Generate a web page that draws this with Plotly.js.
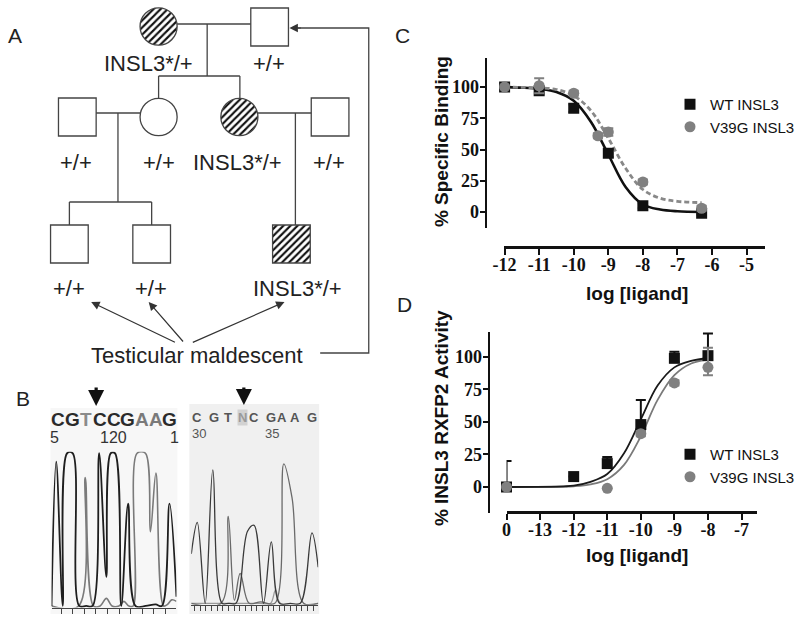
<!DOCTYPE html>
<html><head><meta charset="utf-8">
<script src="https://cdn.plot.ly/plotly-3.0.1.min.js"></script>
<style>html,body{margin:0;padding:0;background:#fff}#chart{width:800px;height:618px}</style>
</head><body><div id="chart"></div>
<script>
// ================= DATA =================
// Panel A: pedigree
const pedigreeId       = ['I-1','I-2','II-1','II-2','II-3','II-4','III-1','III-2','III-3'];
const pedigreeSex      = ['F','M','M','F','F','M','M','M','M'];
const pedigreeGenotype = ['INSL3*/+','+/+','+/+','+/+','INSL3*/+','+/+','+/+','+/+','INSL3*/+'];
const pedigreeCarrier  = [true,false,false,false,true,false,false,false,true];
const maldescentText   = 'Testicular maldescent';

// Panel B: sequencing chromatograms (scan position, signal)
const seqWT        = ['C','G','T','C','C','G','A','A','G'];
const seqWTNumbers = ['5','120','1'];
const seqPt        = ['C','G','T','N','C','G','A','A','G'];
const seqPtNumbers = ['30','35'];
const chromWT_darkX = [0,4.7,11.3,15.7,21.3,28,35,41.3,48,55.3,59.7,64,70.3,77.3,84.7,95,105,111.3,119,126];
const chromWT_darkY = [0,94.5,0,100,100,0,0,0,100,19,100,100,0,67,0,0,1,0,67,6];
const chromWT_grayX = [0,27.3,34,42.3,49,55.3,61,68,73,78,82.3,86.3,94.7,99.7,105.3,113,117,121.3,126];
const chromWT_grayY = [0,0,84,0,0,5,0,0,3,0,0,100,100,48.6,87,0,1,4,3];
const chromPt_darkX = [0,6,14,21.7,31,38,45,56.7,63.3,72.8,80.7,89,100,110,121.7,128];
const chromPt_darkY = [33,54,0,89,0,0,0,48,52,0,41,0,0,0,47,24];
const chromPt_grayX = [0,30,37.3,43.5,49.3,58.3,70,84.3,93.3,101.7,113.3,128];
const chromPt_grayY = [0,0,58,2,20,0,1,0,93,70,0,0];
const chromPt_lightX = [0,70,80,85,90,128];
const chromPt_lightY = [0,0,0,9,0,0];

// Panel C: % specific binding vs log [ligand]
const bindX_WT    = [-12,-11,-10,-9,-8,-6.3];
const bindWT      = [100,97,83,47,5,-1];
const bindWT_err  = [2,3,3,3,2,1];
const bindX_V39G  = [-12,-11,-10,-9.3,-9,-8,-6.3];
const bindV39G    = [100,101,95,61,64,24,3];
const bindV39G_err= [1,6,2,2,3,2,2];
const bindFitX    = [-12,-11.5,-11,-10.5,-10,-9.5,-9,-8.5,-8,-7.5,-7,-6.3];
const bindFitWT   = [100,99.5,98.5,96,89,72,46,20,6,2,0.6,0];
const bindFitV39G = [100,99.7,99.3,98,93,81,59,35,18,11,8.5,7.5];
const bindTicks   = [-12,-11,-10,-9,-8,-7,-6,-5];
const bindTickText= ['-12','-11','-10','-9','-8','-7','-6','-5'];
const pctTicks    = [0,25,50,75,100];

// Panel D: % INSL3 RXFP2 activity vs log [ligand]
const actTicks     = [-14,-13,-12,-11,-10,-9,-8,-7];
const actTickText  = ['0','-13','-12','-11','-10','-9','-8','-7'];
const actX_WT      = [-14,-12,-11,-10,-9,-8];
const actWT        = [0,8,18,48,99,101];
const actWT_up     = [20,0,5,19,5,17];
const actWT_dn     = [0,0,3,5,3,3];
const actX_V39G    = [-14,-11,-10,-9,-8];
const actV39G      = [0,-1,41,80,92];
const actV39G_up   = [0,0,2,2,15];
const actV39G_dn   = [0,0,2,2,6];
const actFitX      = [-14,-12.3,-12,-11.5,-11,-10.5,-10,-9.5,-9,-8.5,-8];
const actFitWT     = [0,0.5,1,4,10,26,52,78,92,97,99];
const actFitV39G   = [0,0.2,0.5,2,6,17,39,67,86,95,98];
const legendNames  = ['WT INSL3','V39G INSL3'];

// ================= LAYOUT HELPERS =================
const W = 800, H = 618;
const SANS = 'Liberation Sans, Arial, sans-serif';
const SERIF = 'Liberation Serif, Times New Roman, serif';
// pedigree node layout (canvas pixels)
const nodeX  = [160,272,78,160,241.5,333,70,153,294];
const nodeY  = [26.5,27,117,117,117,117,244,244,244];
const labelX = [150,271,77,160,240,332,70,152,300];
const labelY = [63,63,162,162,162,162,288,288,288];
const R = 18.7, S = 19;

const traces = [];
const shapes = [];
const ann = [];

function circlePoly(cx, cy, r){
  const xs=[], ys=[];
  for(let i=0;i<=72;i++){const a=2*Math.PI*i/72; xs.push(cx+r*Math.cos(a)); ys.push(cy+r*Math.sin(a));}
  return {xs, ys};
}

// pedigree symbols
pedigreeId.forEach((id,i)=>{
  const cx=nodeX[i], cy=nodeY[i];
  if(pedigreeCarrier[i]){
    let xs, ys;
    if(pedigreeSex[i]==='F'){ const p=circlePoly(cx,cy,R); xs=p.xs; ys=p.ys; }
    else { xs=[cx-S,cx+S,cx+S,cx-S,cx-S]; ys=[cy-S,cy-S,cy+S,cy+S,cy-S]; }
    traces.push({type:'scatter', mode:'lines', x:xs, y:ys, xaxis:'x', yaxis:'y',
      fill:'toself', fillcolor:'#ffffff', line:{width:0, color:'rgba(0,0,0,0)'},
      fillpattern:{shape:'/', fgcolor:'#111', bgcolor:'#fff', size:5, solidity:0.42},
      hoverinfo:'skip', showlegend:false});
  }
  if(pedigreeSex[i]==='F'){
    shapes.push({type:'circle', xref:'x', yref:'y', x0:cx-R, x1:cx+R, y0:cy-R, y1:cy+R, line:{color:'#444', width:1.3}});
  } else {
    shapes.push({type:'rect', xref:'x', yref:'y', x0:cx-S, x1:cx+S, y0:cy-S, y1:cy+S, line:{color:'#444', width:1.3}});
  }
  ann.push({xref:'x', yref:'y', x:labelX[i], y:labelY[i], text:pedigreeGenotype[i], showarrow:false,
    font:{family:SANS, size:22, color:'#222'}});
});
// pedigree connecting lines
const segs = [
  [178.7,24,253,24],[209,24,209,76],[160,76,242,76],[160,76,160,98.3],[242,76,242,98.3],
  [97,113,141.3,113],[119,113,119,202],[70,202,153,202],[70,202,70,225],[153,202,153,225],
  [260.2,113,314,113],[298,113,298,225]
];
segs.forEach(s=>shapes.push({type:'line', xref:'x', yref:'y', x0:s[0], y0:s[1], x1:s[2], y1:s[3], line:{color:'#444', width:1.3}}));
ann.push({xref:'x', yref:'y', x:199, y:355, text:maldescentText, showarrow:false, font:{family:SANS, size:22, color:'#222'}});
[[92,302,178,343],[150,302,186,343],[287,302,193,343]].forEach(a=>{
  ann.push({xref:'x', yref:'y', axref:'x', ayref:'y', x:a[0], y:a[1], ax:a[2], ay:a[3], text:'', showarrow:true,
    arrowhead:2, arrowsize:1.4, arrowwidth:1.2, arrowcolor:'#333'});
});
shapes.push({type:'path', xref:'x', yref:'y', path:'M323,353 L372,353 L372,28 L300,28', line:{color:'#444', width:1.3}});
ann.push({xref:'x', yref:'y', axref:'x', ayref:'y', x:292, y:28, ax:305, ay:28, text:'', showarrow:true,
  arrowhead:2, arrowsize:1.4, arrowwidth:1.2, arrowcolor:'#333'});

// panel letters
[['A',15,35],['B',23,398],['C',406,35],['D',408,304]].forEach(p=>ann.push({xref:'x', yref:'y', x:p[1], y:p[2], text:p[0], showarrow:false, font:{family:SANS, size:21, color:'#222'}}));

// ---- Panel B ----
shapes.push({type:'rect', xref:'x', yref:'y', x0:51, x1:179, y0:408, y1:614, fillcolor:'#f7f7f7', line:{width:0}, layer:'below'});
shapes.push({type:'rect', xref:'x', yref:'y', x0:191, x1:322, y0:404, y1:614, fillcolor:'#f0f0f0', line:{width:0}, layer:'below'});
const wtLetterColor = {C:'#2a2a2a', G:'#2a2a2a', T:'#8a8a8a', A:'#7a7a7a'};
seqWT.forEach((b,i)=>ann.push({xref:'x', yref:'y', x:59+14*i, y:419, text:b, showarrow:false,
  font:{family:SANS, size:19, color:wtLetterColor[b], weight:'bold'}}));
[[55,seqWTNumbers[0]],[114,seqWTNumbers[1]],[176,seqWTNumbers[2]]].forEach(p=>ann.push({xref:'x', yref:'y', x:p[0], y:437, text:p[1], showarrow:false, font:{family:SANS, size:16, color:'#333'}}));
const ptLetterX = [199,216,230,245,256,273,284,298,315];
seqPt.forEach((b,i)=>ann.push({xref:'x', yref:'y', x:ptLetterX[i], y:417, text:b, showarrow:false,
  bgcolor: b==='N' ? '#d2d2d2' : 'rgba(0,0,0,0)', borderpad:0,
  font:{family:SANS, size:13, color: b==='N' ? '#9a9a9a' : '#555', weight:'bold'}}));
[[201,seqPtNumbers[0]],[274,seqPtNumbers[1]]].forEach(p=>ann.push({xref:'x', yref:'y', x:p[0], y:433, text:p[1], showarrow:false, font:{family:SANS, size:13, color:'#555'}}));
[[97,406,97,386],[246,405,246,386]].forEach(a=>ann.push({xref:'x', yref:'y', axref:'x', ayref:'y', x:a[0], y:a[1], ax:a[2], ay:a[3], text:'', showarrow:true,
  arrowhead:2, arrowsize:1, arrowwidth:3.2, arrowcolor:'#111'}));

const chromLine = (x,y,xa,ya,col,w)=>({type:'scatter', mode:'lines', x, y, xaxis:xa, yaxis:ya,
  line:{color:col, width:w, shape:'spline', smoothing:1}, hoverinfo:'skip', showlegend:false});
traces.push(chromLine(chromWT_grayX, chromWT_grayY, 'x4','y4','#7a7a7a',1.6));
traces.push(chromLine(chromWT_darkX, chromWT_darkY, 'x4','y4','#1e1e1e',1.8));
traces.push(chromLine(chromPt_lightX, chromPt_lightY, 'x5','y5','#9a9a9a',1.3));
traces.push(chromLine(chromPt_grayX, chromPt_grayY, 'x5','y5','#6a6a6a',1.3));
traces.push(chromLine(chromPt_darkX, chromPt_darkY, 'x5','y5','#3a3a3a',1.3));

// ---- Panel C ----
traces.push({type:'scatter', mode:'lines', x:bindFitX, y:bindFitWT, xaxis:'x2', yaxis:'y2',
  line:{color:'#111', width:2.6, shape:'spline'}, showlegend:false, hoverinfo:'skip', cliponaxis:false});
traces.push({type:'scatter', mode:'lines', x:bindFitX, y:bindFitV39G, xaxis:'x2', yaxis:'y2',
  line:{color:'#888', width:2.8, dash:'5px,3px', shape:'spline'}, showlegend:false, hoverinfo:'skip', cliponaxis:false});
traces.push({type:'scatter', mode:'markers', name:legendNames[0], x:bindX_WT, y:bindWT, xaxis:'x2', yaxis:'y2',
  marker:{symbol:'square', size:11, color:'#111'}, error_y:{type:'data', array:bindWT_err, color:'#111', thickness:2, width:5},
  legend:'legend', cliponaxis:false});
traces.push({type:'scatter', mode:'markers', name:legendNames[1], x:bindX_V39G, y:bindV39G, xaxis:'x2', yaxis:'y2',
  marker:{symbol:'circle', size:11, color:'#808080'}, error_y:{type:'data', array:bindV39G_err, color:'#808080', thickness:2, width:5},
  legend:'legend', cliponaxis:false});

// ---- Panel D ----
traces.push({type:'scatter', mode:'lines', x:actFitX, y:actFitV39G, xaxis:'x3', yaxis:'y3',
  line:{color:'#7a7a7a', width:1.8, shape:'spline'}, showlegend:false, hoverinfo:'skip', cliponaxis:false});
traces.push({type:'scatter', mode:'lines', x:actFitX, y:actFitWT, xaxis:'x3', yaxis:'y3',
  line:{color:'#1a1a1a', width:1.8, shape:'spline'}, showlegend:false, hoverinfo:'skip', cliponaxis:false});
traces.push({type:'scatter', mode:'markers', name:legendNames[0], x:actX_WT, y:actWT, xaxis:'x3', yaxis:'y3',
  marker:{symbol:'square', size:11, color:'#111'}, error_y:{type:'data', symmetric:false, array:actWT_up, arrayminus:actWT_dn, color:'#111', thickness:2, width:5},
  legend:'legend2', cliponaxis:false});
traces.push({type:'scatter', mode:'markers', name:legendNames[1], x:actX_V39G, y:actV39G, xaxis:'x3', yaxis:'y3',
  marker:{symbol:'circle', size:11, color:'#808080'}, error_y:{type:'data', symmetric:false, array:actV39G_up, arrayminus:actV39G_dn, color:'#808080', thickness:2, width:5},
  legend:'legend2', cliponaxis:false});

// axis titles
ann.push({xref:'x', yref:'y', x:445, y:142, text:'% Specific Binding', textangle:-90, showarrow:false, font:{family:SANS, size:19, color:'#111', weight:'bold'}});
ann.push({xref:'x', yref:'y', x:643, y:293, text:'log [ligand]', showarrow:false, font:{family:SANS, size:19, color:'#111', weight:'bold'}});
ann.push({xref:'x', yref:'y', x:445, y:418, text:'% INSL3 RXFP2 Activity', textangle:-90, showarrow:false, font:{family:SANS, size:19, color:'#111', weight:'bold'}});
ann.push({xref:'x', yref:'y', x:643, y:555, text:'log [ligand]', showarrow:false, font:{family:SANS, size:19, color:'#111', weight:'bold'}});

const px = v=>v/W, py = v=>1-v/H;
const tickFont = {family:SERIF, size:18, color:'#111', weight:700};
const dataAxis = extra => Object.assign({showgrid:false, zeroline:false, showline:true, linecolor:'#111', linewidth:2.5,
  ticks:'outside', tickwidth:2, tickcolor:'#111', tickfont:tickFont, anchor:'free', fixedrange:true}, extra);

const layout = {
  width:W, height:H, margin:{l:0,r:0,t:0,b:0}, paper_bgcolor:'#fff', plot_bgcolor:'rgba(0,0,0,0)',
  xaxis:{domain:[0,1], range:[0,W], visible:false, anchor:'y', fixedrange:true},
  yaxis:{domain:[0,1], range:[H,0], visible:false, anchor:'x', fixedrange:true},
  xaxis2: dataAxis({domain:[px(508),px(772)], range:[-12.03,-4.46], position:py(247), tickvals:bindTicks, ticktext:bindTickText, ticklen:6, ticklabelstandoff:-5}),
  yaxis2: dataAxis({domain:[py(228),py(58)], range:[-12.8,123.2], position:px(490), tickvals:pctTicks, ticklen:5, ticklabelstandoff:-3}),
  xaxis3: dataAxis({domain:[px(511),px(764)], range:[-14,-6.53], position:py(512), tickvals:actTicks, ticktext:actTickText, ticklen:6, ticklabelstandoff:-5}),
  yaxis3: dataAxis({domain:[py(513),py(332)], range:[-20,119.2], position:px(493), tickvals:pctTicks, ticklen:5, ticklabelstandoff:-3}),
  xaxis4:{domain:[px(52),px(178)], range:[0,126], anchor:'y4', showgrid:false, zeroline:false, showline:true, linecolor:'#444', linewidth:1,
    ticks:'outside', ticklen:5, tickcolor:'#444', tick0:9.7, dtick:11.7, showticklabels:false, fixedrange:true},
  yaxis4:{domain:[py(607.5),py(451.7)], range:[-1,101], visible:false, anchor:'x4', fixedrange:true},
  xaxis5:{domain:[px(193),px(321)], range:[0,128], anchor:'y5', showgrid:false, zeroline:false, showline:true, linecolor:'#444', linewidth:1,
    ticks:'outside', ticklen:5, tickcolor:'#444', tick0:3.3, dtick:5.7, showticklabels:false, fixedrange:true},
  yaxis5:{domain:[py(604.8),py(451.8)], range:[-1,101], visible:false, anchor:'x5', fixedrange:true},
  legend:{x:px(676), y:py(88), xanchor:'left', yanchor:'top', bgcolor:'rgba(0,0,0,0)', font:{family:SANS, size:15, color:'#111'}, tracegroupgap:0, itemwidth:30},
  legend2:{x:px(676), y:py(438), xanchor:'left', yanchor:'top', bgcolor:'rgba(0,0,0,0)', font:{family:SANS, size:15, color:'#111'}, tracegroupgap:0, itemwidth:30},
  shapes, annotations:ann, showlegend:true
};
Plotly.newPlot('chart', traces, layout, {staticPlot:true, displayModeBar:false});
</script></body></html>
